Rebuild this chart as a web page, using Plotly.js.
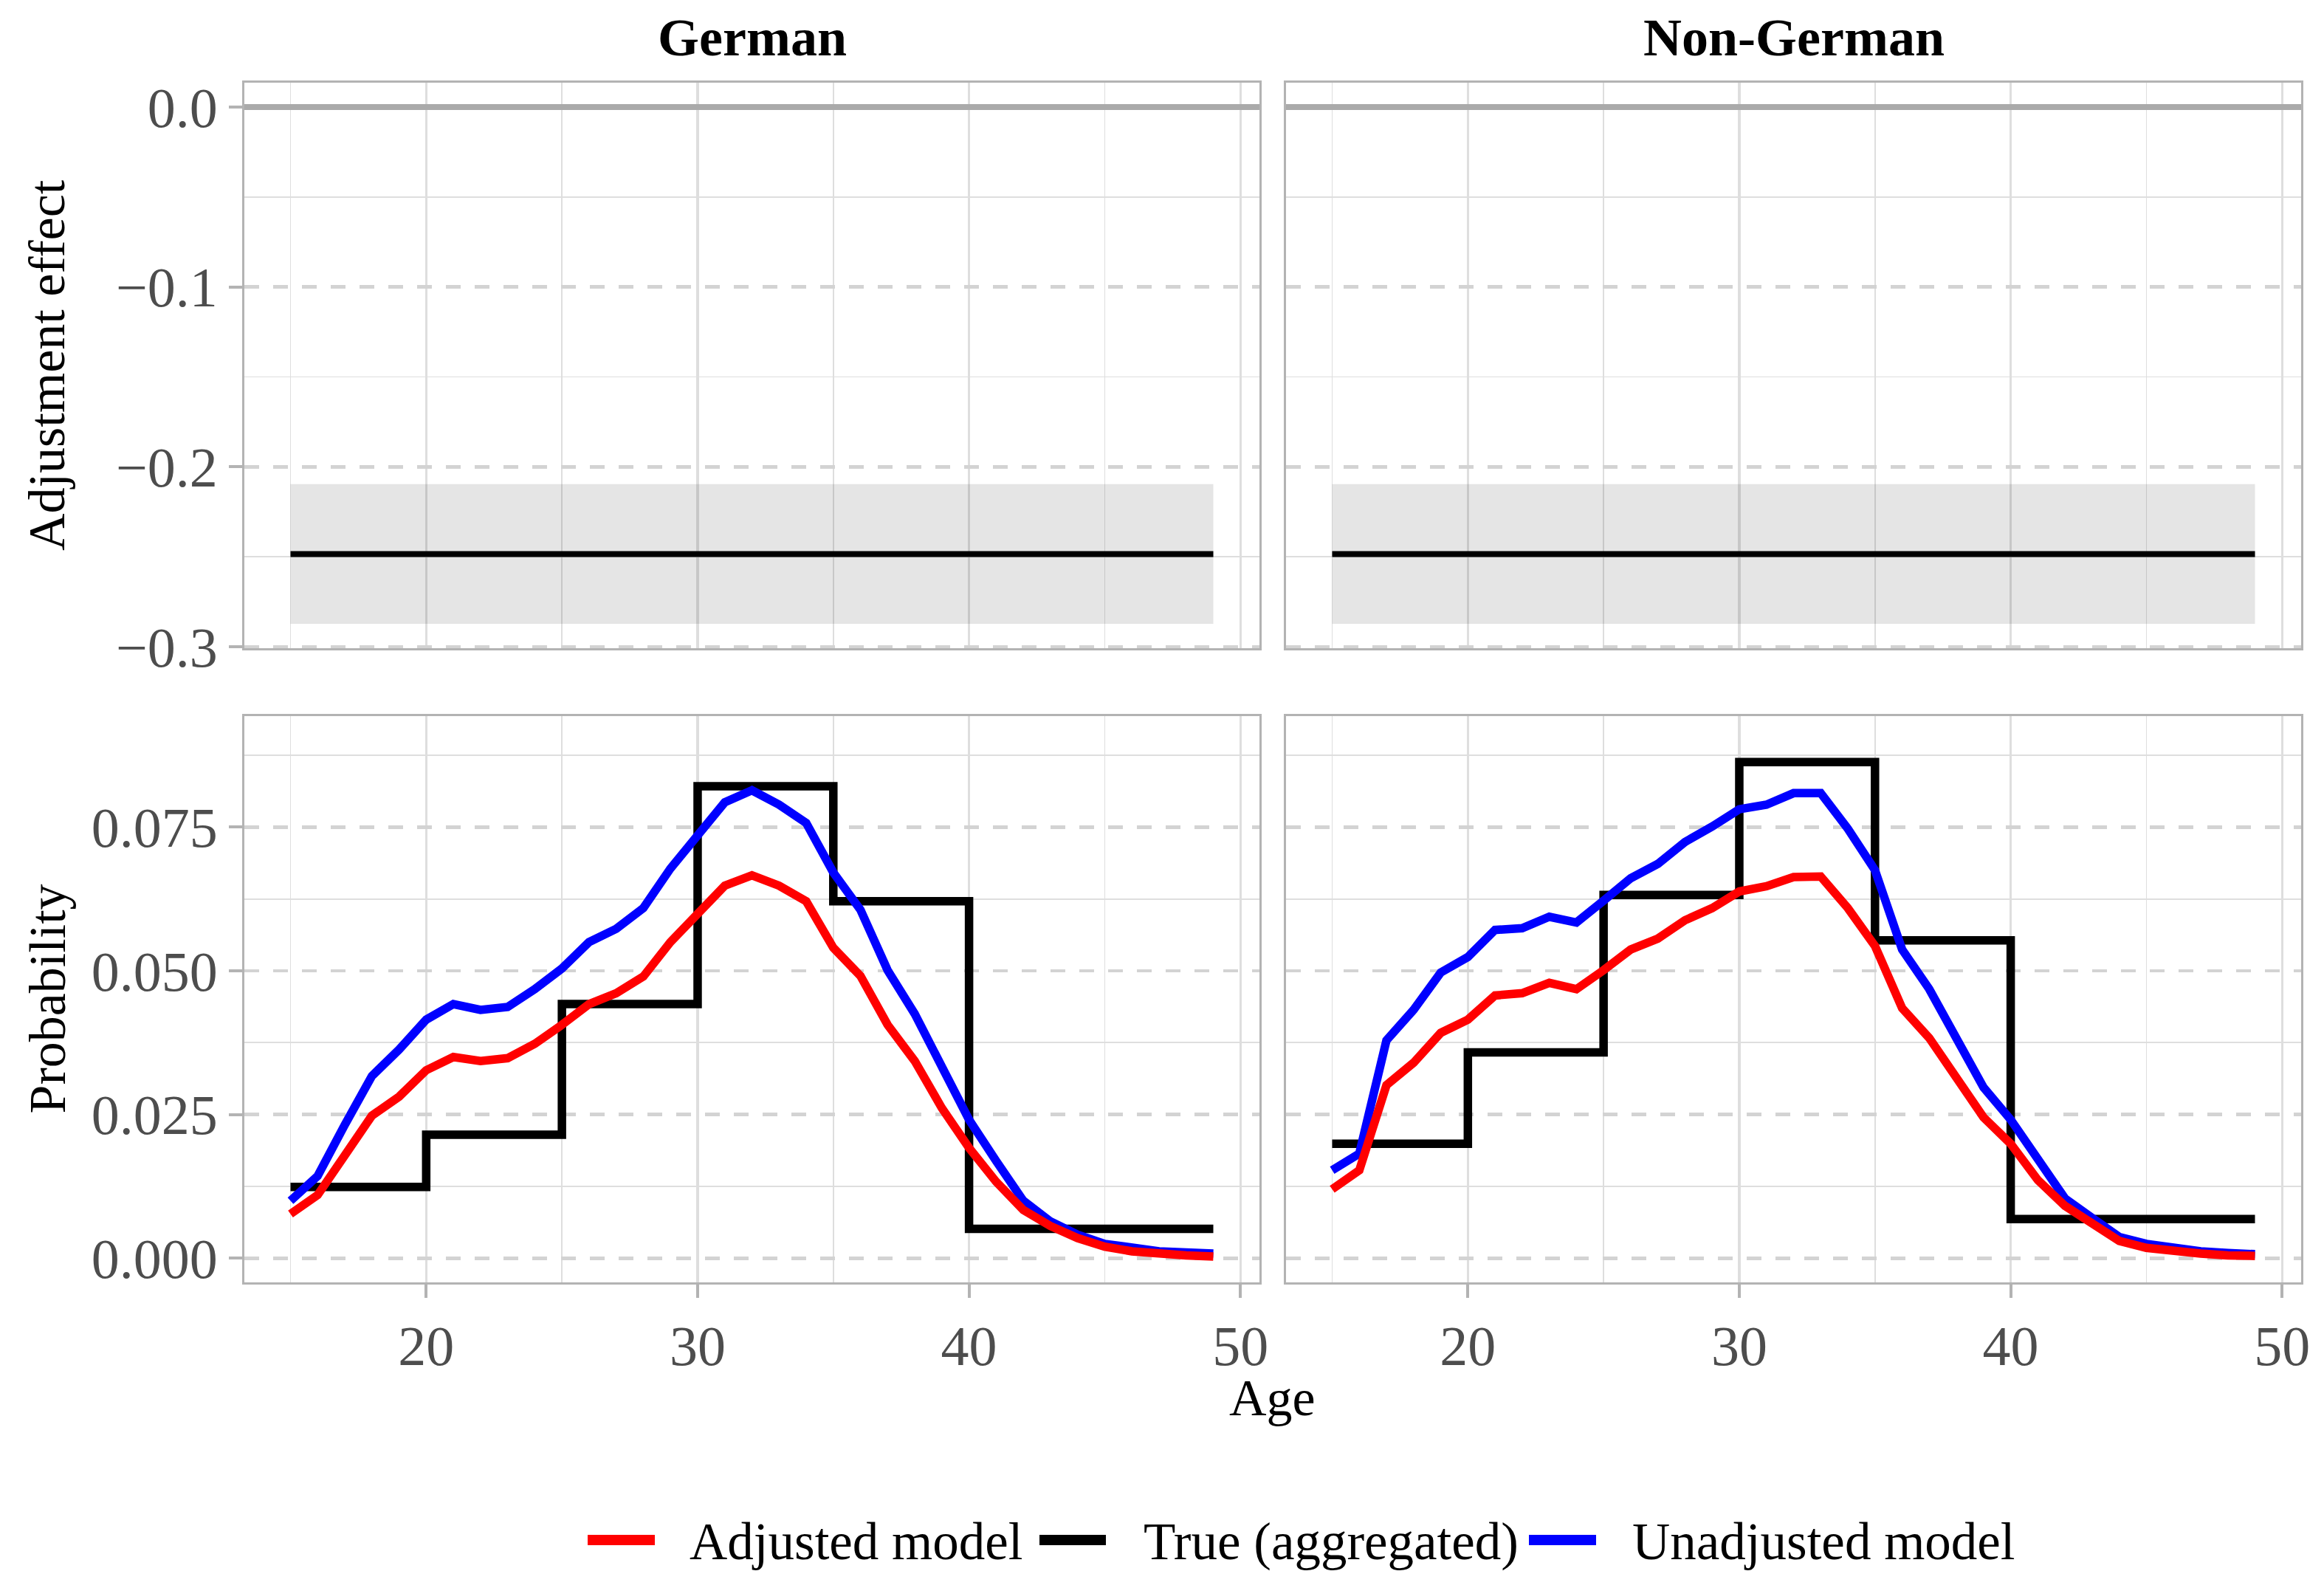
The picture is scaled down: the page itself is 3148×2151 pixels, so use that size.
<!DOCTYPE html>
<html>
<head>
<meta charset="utf-8">
<script src="https://cdn.plot.ly/plotly-3.0.1.min.js"></script>
<style>html,body{margin:0;padding:0;background:#fff;}#chart{width:3148px;height:2151px;}</style>
</head>
<body>
<div id="chart"></div>
<script>
// ---------------- data ----------------
const panels = ["German", "Non-German"];
const ages = [15,16,17,18,19,20,21,22,23,24,25,26,27,28,29,30,31,32,33,34,35,36,37,38,39,40,41,42,43,44,45,46,47,48,49];

const adjustedGerman = [0.0077,0.0110,0.0179,0.0248,0.0281,0.0327,0.0350,0.0343,0.0348,0.0373,0.0406,0.0442,0.0461,0.0490,0.0550,0.0599,0.0648,0.0666,0.0648,0.0621,0.0540,0.0491,0.0406,0.0343,0.0261,0.0192,0.0133,0.0084,0.0056,0.0035,0.0020,0.0012,0.0007,0.0005,0.0003];
const unadjustedGerman = [0.0100,0.0143,0.0232,0.0317,0.0363,0.0415,0.0442,0.0432,0.0437,0.0468,0.0504,0.0550,0.0573,0.0609,0.0678,0.0737,0.0793,0.0814,0.0789,0.0757,0.0671,0.0606,0.0501,0.0425,0.0333,0.0241,0.0169,0.0100,0.0064,0.0041,0.0025,0.0017,0.0012,0.0010,0.0008];
const adjustedNonGerman = [0.0120,0.0153,0.0301,0.0340,0.0392,0.0415,0.0457,0.0461,0.0479,0.0468,0.0501,0.0537,0.0556,0.0588,0.0609,0.0638,0.0647,0.0663,0.0664,0.0609,0.0543,0.0435,0.0383,0.0317,0.0245,0.0199,0.0136,0.0091,0.0059,0.0030,0.0018,0.0012,0.0008,0.0005,0.0004];
const unadjustedNonGerman = [0.0153,0.0182,0.0379,0.0432,0.0497,0.0524,0.0571,0.0574,0.0594,0.0584,0.0622,0.0661,0.0686,0.0724,0.0751,0.0781,0.0789,0.0809,0.0809,0.0747,0.0675,0.0537,0.0468,0.0386,0.0297,0.0241,0.0173,0.0104,0.0070,0.0037,0.0025,0.0017,0.0012,0.0009,0.0007];

// true (aggregated) 5-year group values, drawn as steps
const trueBreaks = [15,20,25,30,35,40,49];
const trueGerman = [0.0124,0.0215,0.0442,0.0821,0.0621,0.0051,0.0051];
const trueNonGerman = [0.0199,0.0358,0.0632,0.0863,0.0553,0.0068,0.0068];

// adjustment effect (constant over age) with interval
const effectAges = [15,49];
const effectGerman = [-0.2485,-0.2485];
const effectLowGerman = [-0.2873,-0.2873];
const effectHighGerman = [-0.2096,-0.2096];
const effectNonGerman = [-0.2485,-0.2485];
const effectLowNonGerman = [-0.2873,-0.2873];
const effectHighNonGerman = [-0.2096,-0.2096];

const seriesNames = ["Adjusted model","True (aggregated)","Unadjusted model"];
const seriesColors = ["#ff0000","#000000","#0000ff"];

// ---------------- traces ----------------
const FONT = "Liberation Serif, 'Times New Roman', Times, serif";
const traces = [];
function ribbon(xa, ya, low, high, mid){
  traces.push({x: effectAges, y: low, xaxis: xa, yaxis: ya, mode: "lines", line:{width:0, color:"rgba(0,0,0,0)"}, showlegend:false, hoverinfo:"skip"});
  traces.push({x: effectAges, y: high, xaxis: xa, yaxis: ya, mode: "lines", fill:"tonexty", fillcolor:"rgba(0,0,0,0.1)", line:{width:0, color:"rgba(0,0,0,0)"}, showlegend:false, hoverinfo:"skip"});
  traces.push({x: effectAges, y: mid, xaxis: xa, yaxis: ya, mode: "lines", line:{width:8, color:"#000000"}, showlegend:false});
}
ribbon("x3","y3", effectLowGerman, effectHighGerman, effectGerman);
ribbon("x4","y4", effectLowNonGerman, effectHighNonGerman, effectNonGerman);

function probPanel(xa, ya, tr, un, ad){
  traces.push({x: trueBreaks, y: tr, xaxis: xa, yaxis: ya, mode:"lines", line:{shape:"hv", width:11.5, color:seriesColors[1]}, name: seriesNames[1], showlegend:false});
  traces.push({x: ages, y: un, xaxis: xa, yaxis: ya, mode:"lines", line:{width:11.5, color:seriesColors[2]}, name: seriesNames[2], showlegend:false});
  traces.push({x: ages, y: ad, xaxis: xa, yaxis: ya, mode:"lines", line:{width:11.5, color:seriesColors[0]}, name: seriesNames[0], showlegend:false});
}
probPanel("x","y", trueGerman, unadjustedGerman, adjustedGerman);
probPanel("x2","y2", trueNonGerman, unadjustedNonGerman, adjustedNonGerman);

// ---------------- layout ----------------
const W = 3148, H = 2151;
const ML = 331, MR = 31, MT = 112, MB = 414;
const PW = W - ML - MR, PH = H - MT - MB;
const px = v => (v - ML) / PW;          // pixel -> paper x
const py = v => (H - MB - v) / PH;      // pixel -> paper y

const xLeftDom = [0, px(1706)];
const xRightDom = [px(1742), 1];
const yTopDom = [py(878), 1];
const yBotDom = [0, py(970)];

const BORDER = "#b3b3b3";
function xAxis(dom, anchor, showLabels){
  return {
    domain: dom, anchor: anchor, range: [13.3, 50.7], tick0: 0, dtick: 10,
    showgrid: true, gridcolor: "#dedede", gridwidth: 3.5,
    minor: {tick0: 0, dtick: 5, showgrid: true, gridcolor: "#dedede", gridwidth: 1.8, griddash: "solid"},
    zeroline: false, showline: true, mirror: true, linecolor: BORDER, linewidth: 3,
    ticks: showLabels ? "outside" : "", ticklen: 18, tickwidth: 4, tickcolor: BORDER,
    showticklabels: showLabels,
    tickfont: {family: FONT, size: 76, color: "#4d4d4d"}
  };
}
function yAxis(dom, anchor, showLabels, top){
  const a = {
    domain: dom, anchor: anchor,
    showgrid: true, gridcolor: "#d3d3d3", gridwidth: 4.5, griddash: "20px,19px",
    showline: true, mirror: true, linecolor: BORDER, linewidth: 3,
    ticks: showLabels ? "outside" : "", ticklen: 18, tickwidth: 4, tickcolor: BORDER,
    showticklabels: showLabels,
    tickfont: {family: FONT, size: 76, color: "#4d4d4d"}
  };
  if (top){
    Object.assign(a, {range: [-0.3008, 0.0135], tick0: 0, dtick: 0.1, tickformat: ".1f",
      zeroline: true, zerolinecolor: "#aaaaaa", zerolinewidth: 8,
      minor: {tick0: 0, dtick: 0.05, showgrid: true, gridcolor: "#dedede", gridwidth: 1.8, griddash: "solid"}});
  } else {
    Object.assign(a, {range: [-0.0042, 0.0943], tick0: 0, dtick: 0.025, tickformat: ".3f",
      zeroline: false,
      minor: {tick0: 0, dtick: 0.0125, showgrid: true, gridcolor: "#dedede", gridwidth: 1.8, griddash: "solid"}});
  }
  return a;
}

const annotations = [
  {text: "<b>" + panels[0] + "</b>", xref:"paper", yref:"paper", x: (xLeftDom[0]+xLeftDom[1])/2, y: py(51), xanchor:"center", yanchor:"middle", showarrow:false, font:{family:FONT, size:72, color:"#000"}},
  {text: "<b>" + panels[1] + "</b>", xref:"paper", yref:"paper", x: (xRightDom[0]+xRightDom[1])/2, y: py(51), xanchor:"center", yanchor:"middle", showarrow:false, font:{family:FONT, size:72, color:"#000"}},
  {text: "Age", xref:"paper", yref:"paper", x: px(1723), y: py(1893), xanchor:"center", yanchor:"middle", showarrow:false, font:{family:FONT, size:70, color:"#000"}},
  {text: "Adjustment effect", xref:"paper", yref:"paper", x: px(64), y: (yTopDom[0]+yTopDom[1])/2, xanchor:"center", yanchor:"middle", textangle:-90, showarrow:false, font:{family:FONT, size:70, color:"#000"}},
  {text: "Probability", xref:"paper", yref:"paper", x: px(64), y: (yBotDom[0]+yBotDom[1])/2, xanchor:"center", yanchor:"middle", textangle:-90, showarrow:false, font:{family:FONT, size:70, color:"#000"}}
];

// manual legend (keys + labels)
const legendKeyX = [[796,887],[1408,1498],[2071,2162]];
const legendTextX = [933, 1548, 2210];
const legendY = 2086;
const shapes = [];
for (let i = 0; i < 3; i++){
  shapes.push({type:"line", xref:"paper", yref:"paper", x0: px(legendKeyX[i][0]), x1: px(legendKeyX[i][1]), y0: py(legendY), y1: py(legendY), line:{color: seriesColors[i], width: 14}});
  annotations.push({text: seriesNames[i], xref:"paper", yref:"paper", x: px(legendTextX[i]), y: py(legendY+2), xanchor:"left", yanchor:"middle", showarrow:false, font:{family:FONT, size:71, color:"#000"}, borderpad:0});
}

const layout = {
  width: W, height: H,
  margin: {l: ML, r: MR, t: MT, b: MB, pad: 0},
  paper_bgcolor: "#ffffff", plot_bgcolor: "#ffffff",
  font: {family: FONT, size: 70, color: "#000"},
  showlegend: false,
  xaxis: xAxis(xLeftDom, "y", true),
  xaxis2: xAxis(xRightDom, "y2", true),
  xaxis3: xAxis(xLeftDom, "y3", false),
  xaxis4: xAxis(xRightDom, "y4", false),
  yaxis: yAxis(yBotDom, "x", true, false),
  yaxis2: yAxis(yBotDom, "x2", false, false),
  yaxis3: yAxis(yTopDom, "x3", true, true),
  yaxis4: yAxis(yTopDom, "x4", false, true),
  annotations: annotations,
  shapes: shapes
};

Plotly.newPlot("chart", traces, layout, {staticPlot: true, displayModeBar: false});
</script>
</body>
</html>
